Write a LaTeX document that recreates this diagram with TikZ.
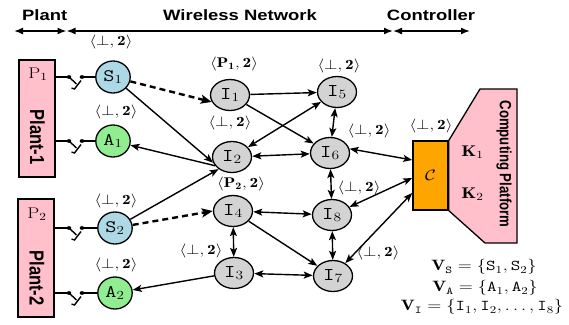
\RequirePackage{fix-cm}
\documentclass[tikz,border=0pt]{standalone}
\usepackage{fontspec}
\newfontfamily\hv{Liberation Sans}
\usetikzlibrary{arrows.meta,shapes.geometric,calc}
\definecolor{pinkbox}{HTML}{FFC0CB}
\definecolor{sblue}{HTML}{ADD8E6}
\definecolor{agreen}{HTML}{90EE90}
\definecolor{igray}{HTML}{D3D3D3}
\definecolor{corange}{HTML}{FFA500}
\begin{document}
\begin{tikzpicture}[x=1pt,y=-1pt,
  every node/.style={xscale=1.23},
  lab/.style={font=\fontsize{14}{16}\selectfont, inner sep=0pt},
  midlab/.style={font=\fontsize{15.5}{17}\selectfont, inner sep=0pt},
  hdr/.style={font=\hv\bfseries\fontsize{15}{17}\selectfont, inner sep=0pt, anchor=base},
  vtxt/.style={font=\hv\bfseries\fontsize{16.5}{18}\selectfont, inner sep=0pt, rotate=-90},
  plantbox/.style={draw, line width=1.3pt, fill=pinkbox, minimum width=29.3pt, inner sep=0pt},
  sens/.style={ellipse, draw, line width=1.3pt, fill=sblue, minimum width=28pt, minimum height=32pt, inner sep=0pt, font=\fontsize{17.5}{19}\selectfont},
  act/.style={sens, fill=agreen},
  inode/.style={ellipse, draw, line width=1.3pt, fill=igray, minimum width=31.7pt, minimum height=31pt, inner sep=0pt, font=\fontsize{18}{20}\selectfont},
  dotn/.style={circle, fill=black, minimum size=3.8pt, inner sep=0pt},
  mytip/.tip={Stealth[length=9pt,width=7pt,inset=2pt]},
  bigtip/.tip={Stealth[length=11pt,width=9pt,inset=2.5pt]},
  hdtip/.tip={Latex[length=9pt,width=7pt]},
  arr/.style={-mytip, line width=1.4pt},
  darr/.style={mytip-mytip, line width=1.4pt},
  dsh/.style={-bigtip, line width=2.4pt, dash pattern=on 6pt off 4pt},
  hdrarr/.style={hdtip-hdtip, line width=1.6pt},
  wire/.style={line width=1.4pt},
]
\useasboundingbox (0,0) rectangle (569,324);

% header
\node[hdr] (hp) at (44.7,20.7) {Plant};
\node[hdr] (hw) at (240,20.7) {Wireless Network};
\node[hdr] (hc) at (431,20.7) {Controller};
\coordinate (h0) at (14,31);
\coordinate (h1) at (66.5,31);
\coordinate (h2) at (393,31);
\coordinate (h3) at (470,31);
\draw[hdrarr] (h0) -- (h1);
\draw[hdrarr] (h1) -- (h2);
\draw[hdrarr] (h2) -- (h3);

% plants
\node[plantbox, minimum height=117pt] (PB1) at (37,118.5) {};
\node[plantbox, minimum height=118pt] (PB2) at (36,258) {};
\node[midlab] (p1) at (38,74) {$\mathrm{P}_1$};
\node[midlab] (p2) at (37,214) {$\mathrm{P}_2$};
\node[vtxt] (pl1) at (37.5,137) {Plant-1};
\node[vtxt] (pl2) at (37,278) {Plant-2};

% sensors / actuators
\node[sens] (S1) at (113,77) {$\mathtt{S}_1$};
\node[act] (A1) at (113,141) {$\mathtt{A}_1$};
\node[sens] (S2) at (115,228) {$\mathtt{S}_2$};
\node[act] (A2) at (115,293) {$\mathtt{A}_2$};

% switches
\foreach \r/\n/\pb/\t in {77/a/PB1/S1, 141/b/PB1/A1, 228/c/PB2/S2, 293/d/PB2/A2}{
  \node[dotn] (d\n1) at (69,\r) {};
  \node[dotn] (d\n2) at (82,\r) {};
  \draw[wire] (\pb.east |- d\n1) -- (d\n1.center);
  \draw[wire] (d\n2.center) -- (\t);
  \draw[wire] (d\n1.center) -- ++(7.5,7);
  \draw[wire] ($(d\n1.center)+(12,3.5)$) -- ++(-6.5,8.5) -- ++(-3,-1);
}

% intermediate nodes
\node[inode] (I1) at (230,95) {$\mathtt{I}_1$};
\node[inode] (I5) at (337,92) {$\mathtt{I}_5$};
\node[inode] (I2) at (232,157) {$\mathtt{I}_2$};
\node[inode] (I6) at (330,153) {$\mathtt{I}_6$};
\node[inode] (I4) at (233,211) {$\mathtt{I}_4$};
\node[inode] (I8) at (332,215) {$\mathtt{I}_8$};
\node[inode] (I3) at (234,273) {$\mathtt{I}_3$};
\node[inode] (I7) at (333,276) {$\mathtt{I}_7$};

% controller and computing platform
\node[draw, line width=1.3pt, fill=corange, minimum width=28.5pt, minimum height=69pt, inner sep=0pt, font=\fontsize{15}{17}\selectfont] (C) at (430.5,175.5) {$\mathcal{C}$};
\draw[line width=1.3pt, fill=pinkbox] (C.north east) -- (480,89) -- (517,89) -- (517,243) -- (485,243) -- (C.south east) -- cycle;
\node[midlab] (K1) at (472.5,152) {$\mathbf{K}_1$};
\node[midlab] (K2) at (472.5,194) {$\mathbf{K}_2$};
\node[vtxt, font=\hv\bfseries\fontsize{13.2}{15}\selectfont] (cp) at (504,164) {Computing Platform};

% labels
\node[lab] (lS1) at (111,42) {$\langle\perp,\mathbf{2}\rangle$};
\node[lab] (lA1) at (116,112) {$\langle\perp,\mathbf{2}\rangle$};
\node[lab] (lS2) at (116,201) {$\langle\perp,\mathbf{2}\rangle$};
\node[lab] (lA2) at (116,265) {$\langle\perp,\mathbf{2}\rangle$};
\node[lab] (lI1) at (234,64) {$\langle\mathbf{P_1},\mathbf{2}\rangle$};
\node[lab] (lI5) at (339,66) {$\langle\perp,\mathbf{2}\rangle$};
\node[lab] (lI2) at (230,123) {$\langle\perp,\mathbf{2}\rangle$};
\node[lab] (lI6) at (369,131) {$\langle\perp,\mathbf{2}\rangle$};
\node[lab] (lI4) at (241,184) {$\langle\mathbf{P_2},\mathbf{2}\rangle$};
\node[lab] (lI8) at (359,188) {$\langle\perp,\mathbf{2}\rangle$};
\node[lab] (lI3) at (201,251) {$\langle\perp,\mathbf{2}\rangle$};
\node[lab] (lI7) at (378,253) {$\langle\perp,\mathbf{2}\rangle$};
\node[lab] (lC) at (431,126) {$\langle\perp,\mathbf{2}\rangle$};

% sets
\node[font=\fontsize{15}{17}\selectfont, inner sep=0pt] (vs) at (484,267) {$\mathbf{V}_{\mathtt{S}} = \{\mathtt{S}_1, \mathtt{S}_2\}$};
\node[font=\fontsize{15}{17}\selectfont, inner sep=0pt] (va) at (485,288) {$\mathbf{V}_{\mathtt{A}} = \{\mathtt{A}_1, \mathtt{A}_2\}$};
\node[font=\fontsize{15}{17}\selectfont, inner sep=0pt] (vi) at (482,307) {$\mathbf{V}_{\mathtt{I}} = \{\mathtt{I}_1, \mathtt{I}_2, \ldots, \mathtt{I}_8\}$};

% edges
\draw[dsh] (S1) -- (I1.205);
\draw[dsh] (S2) -- (I4.west);
\draw[arr] (S1) -- (I2.200);
\draw[arr] (I2.212) -- (A1);
\draw[arr] (S2) -- (I2.228);
\draw[arr] (I3.190) -- (A2);
\draw[arr] (I1) -- (I5);
\draw[arr] (I1) -- (I6);
\draw[darr] (I5) -- (I2);
\draw[darr] (I5) -- (I6);
\draw[darr] (I2) -- (I6);
\draw[darr] (I6.15) -- ([yshift=15.5pt]C.west);
\draw[darr] (I6) -- (I8);
\draw[darr] (I8) -- ([yshift=-2.5pt]C.west);
\draw[darr] (I8) -- (I7);
\draw[darr] (I7) -- ([yshift=-17.5pt]C.west);
\draw[darr] (I4) -- (I8);
\draw[arr] (I4) -- (I7);
\draw[darr] (I4) -- (I3);
\draw[darr] (I3) -- (I7);
\end{tikzpicture}
\end{document}
